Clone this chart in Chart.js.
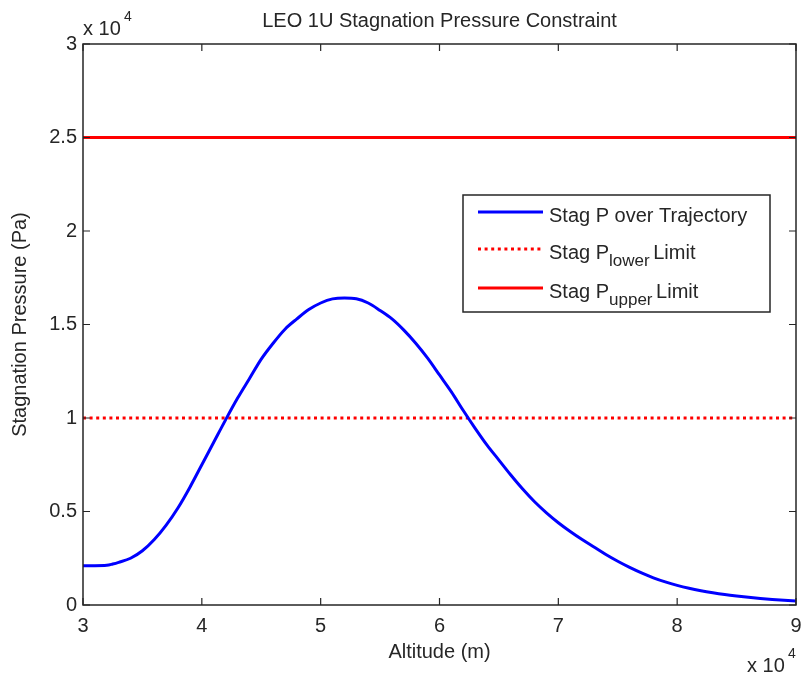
<!DOCTYPE html>
<html>
<head>
<meta charset="utf-8">
<script src="https://cdn.jsdelivr.net/npm/chart.js@4"></script>
<style>
  html, body { margin: 0; padding: 0; background: #fff; }
  #wrap { width: 801px; height: 677px; position: relative; }
</style>
</head>
<body>
<div id="wrap"><canvas id="chart-stag"></canvas></div>
<script>
// altitude (m) and stagnation pressure (Pa) along the trajectory
const altitude = [
  30000, 31000, 32000, 32500, 33000, 34000, 35000, 36000, 37000, 38000,
  39000, 40000, 41000, 42000, 43000, 44000, 45000, 46000, 47000, 48000,
  49000, 50000, 51000, 52000, 53000, 54000, 55000, 56000, 57000, 58000,
  59000, 60000, 61000, 62000, 63000, 64000, 65000, 66000, 67000, 68000,
  69000, 70000, 71000, 72000, 73000, 74000, 75000, 76000, 77000, 78000,
  79000, 80000, 81000, 82000, 83000, 84000, 85000, 86000, 87000, 88000,
  89000, 90000,
];
const stagP = [
  2100, 2100, 2120, 2190, 2280, 2500, 2900, 3500, 4270, 5200,
  6300, 7500, 8700, 9900, 11050, 12100, 13150, 14000, 14750, 15300,
  15800, 16150, 16370, 16420, 16380, 16150, 15750, 15300, 14700, 14000,
  13200, 12300, 11400, 10400, 9450, 8550, 7750, 6950, 6200, 5520,
  4930, 4400, 3930, 3500, 3100, 2700, 2340, 2010, 1715, 1455,
  1235, 1050, 895, 765, 655, 560, 480, 410, 350, 300,
  255, 220,
];
const lowerLimit = 10000;
const upperLimit = 25000;

const xTicks = [30000, 40000, 50000, 60000, 70000, 80000, 90000];
const yTicks = [0, 5000, 10000, 15000, 20000, 25000, 30000];

const FONT = '"Liberation Sans", Arial, sans-serif';
const INK = '#262626';

// MATLAB-style boxed axes with inward ticks, legend and exponent labels
const matlabFrame = {
  id: 'matlabFrame',
  afterDatasetsDraw(chart) {
    const { ctx, chartArea: a, scales: { x, y } } = chart;
    ctx.save();
    ctx.strokeStyle = INK;
    ctx.lineWidth = 1.5;
    ctx.strokeRect(a.left, a.top, a.right - a.left, a.bottom - a.top);
    ctx.lineWidth = 1.2;
    ctx.beginPath();
    xTicks.forEach((v) => {
      const px = x.getPixelForValue(v);
      ctx.moveTo(px, a.bottom); ctx.lineTo(px, a.bottom - 7);
      ctx.moveTo(px, a.top); ctx.lineTo(px, a.top + 7);
    });
    yTicks.forEach((v) => {
      const py = y.getPixelForValue(v);
      ctx.moveTo(a.left, py); ctx.lineTo(a.left + 7, py);
      ctx.moveTo(a.right, py); ctx.lineTo(a.right - 7, py);
    });
    ctx.stroke();

    // exponent labels
    ctx.fillStyle = INK;
    ctx.textBaseline = 'alphabetic';
    ctx.textAlign = 'left';
    ctx.font = `20px ${FONT}`;
    ctx.fillText('x 10', a.left, 35);
    ctx.fillText('x 10', 747, 672);
    ctx.font = `14px ${FONT}`;
    ctx.fillText('4', a.left + 41, 21);
    ctx.fillText('4', 788, 658);

    // legend
    const lx = 463, ly = 195, lw = 307, lh = 117;
    ctx.fillStyle = '#fff';
    ctx.fillRect(lx, ly, lw, lh);
    ctx.strokeStyle = INK;
    ctx.lineWidth = 1.5;
    ctx.strokeRect(lx, ly, lw, lh);

    const rows = [
      { y: 212, color: '#0000ff', dash: [], main: 'Stag P over Trajectory' },
      { y: 249, color: '#ff0000', dash: [3, 3.6], main: 'Stag P', sub: 'lower', tail: ' Limit' },
      { y: 288, color: '#ff0000', dash: [], main: 'Stag P', sub: 'upper', tail: ' Limit' },
    ];
    rows.forEach((r) => {
      ctx.beginPath();
      ctx.strokeStyle = r.color;
      ctx.lineWidth = 3;
      ctx.setLineDash(r.dash);
      ctx.moveTo(478, r.y);
      ctx.lineTo(543, r.y);
      ctx.stroke();
      ctx.setLineDash([]);

      ctx.fillStyle = INK;
      ctx.font = `20px ${FONT}`;
      const base = r.y + 10;
      let tx = 549;
      ctx.fillText(r.main, tx, base);
      if (r.sub) {
        tx += ctx.measureText(r.main).width;
        ctx.font = `17px ${FONT}`;
        ctx.fillText(r.sub, tx, base + 7);
        tx += ctx.measureText(r.sub).width;
        ctx.font = `20px ${FONT}`;
        ctx.fillText(r.tail, tx - 2, base);
      }
    });
    ctx.restore();
  },
};

const ctx = document.getElementById('chart-stag').getContext('2d');
new Chart(ctx, {
  type: 'scatter',
  data: {
    datasets: [
      {
        label: 'Stag P over Trajectory',
        data: altitude.map((a, i) => ({ x: a, y: stagP[i] })),
        showLine: true,
        borderColor: '#0000ff',
        borderWidth: 3,
        pointRadius: 0,
        cubicInterpolationMode: 'monotone',
      },
      {
        label: 'Stag P lower Limit',
        data: [{ x: 30000, y: lowerLimit }, { x: 90000, y: lowerLimit }],
        showLine: true,
        borderColor: '#ff0000',
        borderWidth: 3,
        borderDash: [3, 3.6],
        pointRadius: 0,
      },
      {
        label: 'Stag P upper Limit',
        data: [{ x: 30000, y: upperLimit }, { x: 90000, y: upperLimit }],
        showLine: true,
        borderColor: '#ff0000',
        borderWidth: 3,
        pointRadius: 0,
      },
    ],
  },
  options: {
    responsive: true,
    maintainAspectRatio: false,
    animation: false,
    layout: { padding: { top: 0, right: 5, left: 0, bottom: 0 } },
    plugins: {
      legend: { display: false },
      tooltip: { enabled: false },
      title: {
        display: true,
        fullSize: false,
        text: 'LEO 1U Stagnation Pressure Constraint',
        color: INK,
        font: { family: FONT, size: 20, weight: 'normal' },
        padding: { top: 9, bottom: 11 },
      },
    },
    scales: {
      x: {
        type: 'linear',
        min: 30000,
        max: 90000,
        afterFit: (s) => { s.height = 72; s.paddingLeft = 0; s.paddingRight = 0; },
        afterBuildTicks: (s) => { s.ticks = xTicks.map((v) => ({ value: v })); },
        grid: { display: false, drawTicks: false },
        border: { display: false },
        ticks: {
          padding: 9,
          color: INK,
          font: { family: FONT, size: 20 },
          maxRotation: 0,
          callback: (v) => String(v / 10000),
        },
        title: {
          display: true,
          text: 'Altitude (m)',
          color: INK,
          font: { family: FONT, size: 20 },
          padding: { top: 0, bottom: 13 },
        },
      },
      y: {
        type: 'linear',
        min: 0,
        max: 30000,
        afterFit: (s) => { s.width = 83; s.paddingTop = 0; s.paddingBottom = 0; },
        afterBuildTicks: (s) => { s.ticks = yTicks.map((v) => ({ value: v })); },
        grid: { display: false, drawTicks: false },
        border: { display: false },
        ticks: {
          padding: 6,
          color: INK,
          font: { family: FONT, size: 20 },
          callback: (v) => String(v / 10000),
        },
        title: {
          display: true,
          text: 'Stagnation Pressure (Pa)',
          color: INK,
          font: { family: FONT, size: 20 },
          padding: { top: 8, bottom: 0 },
        },
      },
    },
  },
  plugins: [matlabFrame],
});
</script>
</body>
</html>
